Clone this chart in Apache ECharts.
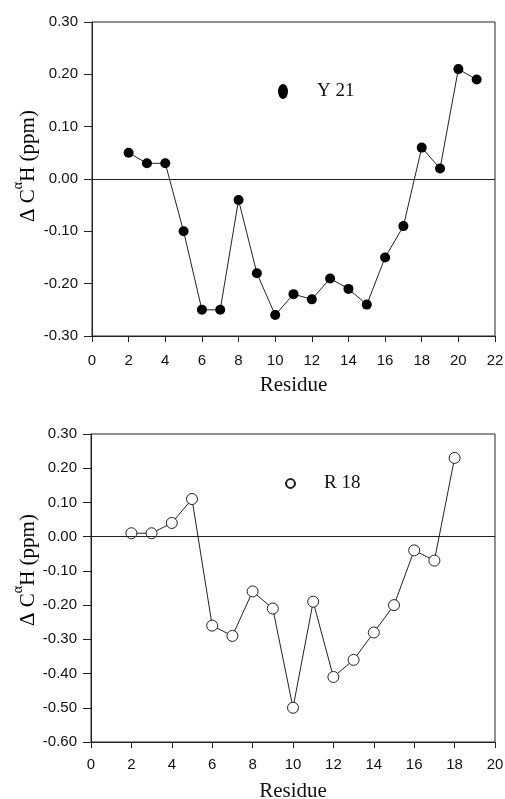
<!DOCTYPE html>
<html>
<head>
<meta charset="utf-8">
<script src="https://cdn.jsdelivr.net/npm/echarts@6/dist/echarts.min.js"></script>
<style>
html,body{margin:0;padding:0;background:#fff;}
#chart{width:505px;height:799px;}
</style>
</head>
<body>
<div id="chart"></div>
<script>
// ---- data ----
var residuesY21 = [2,3,4,5,6,7,8,9,10,11,12,13,14,15,16,17,18,19,20,21];
var shiftY21 = [0.05,0.03,0.03,-0.10,-0.25,-0.25,-0.04,-0.18,-0.26,-0.22,-0.23,-0.19,-0.21,-0.24,-0.15,-0.09,0.06,0.02,0.21,0.19];
var residuesR18 = [2,3,4,5,6,7,8,9,10,11,12,13,14,15,16,17,18];
var shiftR18 = [0.01,0.01,0.04,0.11,-0.26,-0.29,-0.16,-0.21,-0.50,-0.19,-0.41,-0.36,-0.28,-0.20,-0.04,-0.07,0.23];
var xTicksTop = [0,2,4,6,8,10,12,14,16,18,20,22];
var xTicksBottom = [0,2,4,6,8,10,12,14,16,18,20];
var yTicksTop = [-0.30,-0.20,-0.10,0.00,0.10,0.20,0.30];
var yTicksBottom = [-0.60,-0.50,-0.40,-0.30,-0.20,-0.10,0.00,0.10,0.20,0.30];
var seriesNames = ['Y 21','R 18'];
var axisTitleX = 'Residue';

function pairs(xs, ys){ return xs.map(function(x,i){ return [x, ys[i]]; }); }

var labelFont = {fontFamily:'Liberation Sans', fontSize:15, color:'#111'};
function xAxis(gi, ticks, margin){
  return {
    type:'value', gridIndex:gi, min:ticks[0], max:ticks[ticks.length-1], interval:ticks[1]-ticks[0],
    name: axisTitleX, nameLocation:'middle', nameGap:39,
    nameTextStyle:{fontFamily:'Liberation Serif', fontSize:21, color:'#111'},
    axisLine:{show:true, onZero:false, lineStyle:{color:'#222', width:1}},
    axisTick:{show:true, inside:false, length:6, lineStyle:{color:'#222'}},
    axisLabel:Object.assign({margin:margin}, labelFont),
    splitLine:{show:false}
  };
}
function yAxis(gi, ticks){
  return {
    type:'value', gridIndex:gi, min:ticks[0], max:ticks[ticks.length-1], interval:0.1,
    axisLine:{show:true, onZero:false, lineStyle:{color:'#222', width:1}},
    axisTick:{show:true, inside:false, length:8, lineStyle:{color:'#222'}},
    axisLabel:Object.assign({margin:14, formatter:function(v){ return (Math.round(v*100)/100).toFixed(2); }}, labelFont),
    splitLine:{show:false}
  };
}
var zeroLine = {silent:true, symbol:['none','none'], label:{show:false}, lineStyle:{color:'#222', width:1, type:'solid'}, data:[{yAxis:0}]};

var chart = echarts.init(document.getElementById('chart'), null, {renderer:'canvas'});
var titleRich = {
  a:{fontFamily:'Liberation Serif', fontSize:21, color:'#111', verticalAlign:'bottom', lineHeight:27},
  b:{fontFamily:'Liberation Serif', fontSize:14, color:'#111', verticalAlign:'top', lineHeight:27}
};
var titleText = '{a|\u0394 C}{b|\u03b1}{a|H (ppm)}';
chart.setOption({
  animation:false,
  backgroundColor:'#fff',
  grid:[
    {left:92, right:10, top:22, height:314, show:true, borderColor:'#222', borderWidth:1, backgroundColor:'transparent', containLabel:false, outerBoundsMode:'none'},
    {left:91, right:10, top:434, height:308, show:true, borderColor:'#222', borderWidth:1, backgroundColor:'transparent', containLabel:false, outerBoundsMode:'none'}
  ],
  xAxis:[xAxis(0, xTicksTop, 17), xAxis(1, xTicksBottom, 15)],
  yAxis:[yAxis(0, yTicksTop), yAxis(1, yTicksBottom)],
  legend:[
    {data:[seriesNames[0]], left:273, top:77, orient:'vertical', itemWidth:10, itemHeight:15,
     icon:'path://M5,0A5,7.5,0,1,1,5,15A5,7.5,0,1,1,5,0Z',
     textStyle:{fontFamily:'Liberation Serif', fontSize:19, color:'#111', padding:[0,0,0,24]}},
    {data:[seriesNames[1]], left:279, top:469, orient:'vertical', itemWidth:11, itemHeight:11,
     textStyle:{fontFamily:'Liberation Serif', fontSize:19, color:'#111', padding:[0,0,0,23]}}
  ],
  graphic:[
    {type:'text', x:25, y:166, rotation:Math.PI/2, style:{text:titleText, rich:titleRich, align:'center', verticalAlign:'middle'}},
    {type:'text', x:25, y:570, rotation:Math.PI/2, style:{text:titleText, rich:titleRich, align:'center', verticalAlign:'middle'}}
  ],
  series:[
    {name:seriesNames[0], type:'line', xAxisIndex:0, yAxisIndex:0, data:pairs(residuesY21, shiftY21),
     symbol:'circle', symbolSize:10, lineStyle:{color:'#222', width:1},
     itemStyle:{color:'#000', borderColor:'#000', borderWidth:0},
     markLine:zeroLine},
    {name:seriesNames[1], type:'line', xAxisIndex:1, yAxisIndex:1, data:pairs(residuesR18, shiftR18),
     symbol:'circle', symbolSize:11, lineStyle:{color:'#222', width:1},
     itemStyle:{color:'#fff', borderColor:'#222', borderWidth:1},
     markLine:zeroLine}
  ]
});
</script>
</body>
</html>
